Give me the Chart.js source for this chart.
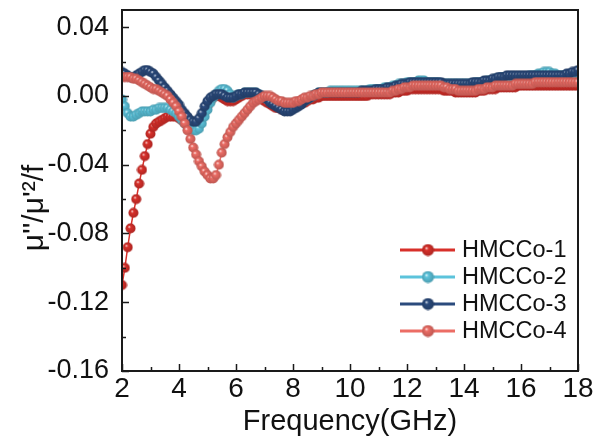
<!DOCTYPE html>
<html>
<head>
<meta charset="utf-8">
<script src="https://cdn.jsdelivr.net/npm/chart.js@4.4.0/dist/chart.umd.min.js"></script>
<style>
  html, body { margin: 0; padding: 0; background: #fff; }
  #wrap { width: 595px; height: 448px; }
</style>
</head>
<body>
<div id="wrap"><canvas id="grafico" width="595" height="448"></canvas></div>
<script>
// ====================================
// datos
// ====================================
const freq = [
  2.0, 2.1, 2.2, 2.3, 2.4, 2.5, 2.6, 2.7, 2.8, 2.9,
  3.0, 3.1, 3.2, 3.3, 3.4, 3.5, 3.6, 3.7, 3.8, 3.9,
  4.0, 4.1, 4.2, 4.3, 4.4, 4.5, 4.6, 4.7, 4.8, 4.9,
  5.0, 5.1, 5.2, 5.3, 5.4, 5.5, 5.6, 5.7, 5.8, 5.9,
  6.0, 6.1, 6.2, 6.3, 6.4, 6.5, 6.6, 6.7, 6.8, 6.9,
  7.0, 7.1, 7.2, 7.3, 7.4, 7.5, 7.6, 7.7, 7.8, 7.9,
  8.0, 8.1, 8.2, 8.3, 8.4, 8.5, 8.6, 8.7, 8.8, 8.9,
  9.0, 9.1, 9.2, 9.3, 9.4, 9.5, 9.6, 9.7, 9.8, 9.9,
  10.0, 10.1, 10.2, 10.3, 10.4, 10.5, 10.6, 10.7, 10.8, 10.9,
  11.0, 11.1, 11.2, 11.3, 11.4, 11.5, 11.6, 11.7, 11.8, 11.9,
  12.0, 12.1, 12.2, 12.3, 12.4, 12.5, 12.6, 12.7, 12.8, 12.9,
  13.0, 13.1, 13.2, 13.3, 13.4, 13.5, 13.6, 13.7, 13.8, 13.9,
  14.0, 14.1, 14.2, 14.3, 14.4, 14.5, 14.6, 14.7, 14.8, 14.9,
  15.0, 15.1, 15.2, 15.3, 15.4, 15.5, 15.6, 15.7, 15.8, 15.9,
  16.0, 16.1, 16.2, 16.3, 16.4, 16.5, 16.6, 16.7, 16.8, 16.9,
  17.0, 17.1, 17.2, 17.3, 17.4, 17.5, 17.6, 17.7, 17.8, 17.9,
  18.0
];

const hmcco1 = [
  -0.110, -0.100, -0.088, -0.077, -0.068, -0.060, -0.051, -0.043, -0.035, -0.028,
  -0.022, -0.018, -0.016, -0.015, -0.014, -0.013, -0.012, -0.012, -0.012, -0.012,
  -0.013, -0.014, -0.015, -0.016, -0.017, -0.017, -0.017, -0.015, -0.012, -0.009,
  -0.006, -0.003, -0.001, 0.000, 0.000, -0.001, -0.002, -0.003, -0.003, -0.003,
  -0.002, -0.001, 0.000, 0.001, 0.001, 0.001, 0.001, 0.000, -0.001, -0.002,
  -0.003, -0.004, -0.005, -0.006, -0.007, -0.007, -0.008, -0.008, -0.008, -0.007,
  -0.006, -0.005, -0.005, -0.004, -0.004, -0.003, -0.002, -0.002, -0.001, -0.001,
  0.000, 0.000, 0.000, 0.000, 0.000, 0.000, 0.000, 0.000, 0.000, 0.000,
  0.000, 0.000, 0.000, 0.000, 0.000, 0.000, 0.000, 0.001, 0.001, 0.001,
  0.001, 0.001, 0.001, 0.001, 0.001, 0.002, 0.002, 0.002, 0.003, 0.003,
  0.003, 0.004, 0.004, 0.004, 0.004, 0.004, 0.004, 0.004, 0.004, 0.004,
  0.004, 0.004, 0.004, 0.003, 0.003, 0.003, 0.003, 0.002, 0.002, 0.002,
  0.002, 0.002, 0.002, 0.002, 0.002, 0.003, 0.003, 0.003, 0.004, 0.004,
  0.004, 0.004, 0.005, 0.005, 0.005, 0.005, 0.005, 0.005, 0.005, 0.006,
  0.006, 0.006, 0.006, 0.006, 0.006, 0.006, 0.006, 0.006, 0.006, 0.006,
  0.006, 0.006, 0.006, 0.006, 0.006, 0.006, 0.006, 0.006, 0.006, 0.006,
  0.006
];

const hmcco2 = [
  -0.002, -0.006, -0.010, -0.012, -0.012, -0.011, -0.010, -0.009, -0.009, -0.009,
  -0.009, -0.008, -0.008, -0.007, -0.007, -0.007, -0.007, -0.008, -0.009, -0.010,
  -0.012, -0.014, -0.016, -0.018, -0.019, -0.020, -0.020, -0.019, -0.016, -0.012,
  -0.008, -0.004, -0.001, 0.001, 0.003, 0.004, 0.004, 0.003, 0.001, -0.001,
  0.000, 0.001, 0.001, 0.002, 0.002, 0.002, 0.002, 0.002, 0.001, 0.000,
  -0.001, -0.002, -0.003, -0.004, -0.005, -0.006, -0.007, -0.008, -0.008, -0.008,
  -0.007, -0.006, -0.005, -0.004, -0.003, -0.002, -0.001, 0.000, 0.001, 0.002,
  0.002, 0.002, 0.002, 0.003, 0.003, 0.003, 0.003, 0.003, 0.003, 0.003,
  0.003, 0.003, 0.003, 0.003, 0.003, 0.003, 0.003, 0.004, 0.004, 0.004,
  0.004, 0.004, 0.005, 0.005, 0.005, 0.006, 0.006, 0.007, 0.007, 0.007,
  0.008, 0.008, 0.008, 0.008, 0.009, 0.009, 0.009, 0.008, 0.008, 0.008,
  0.008, 0.008, 0.007, 0.007, 0.007, 0.007, 0.007, 0.007, 0.007, 0.007,
  0.007, 0.007, 0.007, 0.007, 0.008, 0.008, 0.008, 0.008, 0.009, 0.009,
  0.009, 0.010, 0.010, 0.011, 0.011, 0.011, 0.011, 0.011, 0.011, 0.011,
  0.011, 0.011, 0.011, 0.012, 0.012, 0.012, 0.013, 0.013, 0.014, 0.014,
  0.014, 0.013, 0.013, 0.012, 0.012, 0.012, 0.012, 0.012, 0.012, 0.013,
  0.013
];

const hmcco3 = [
  0.014, 0.013, 0.012, 0.011, 0.011, 0.012, 0.013, 0.014, 0.015, 0.015,
  0.014, 0.013, 0.011, 0.009, 0.007, 0.005, 0.003, 0.001, -0.001, -0.003,
  -0.005, -0.008, -0.010, -0.012, -0.014, -0.015, -0.015, -0.013, -0.010, -0.006,
  -0.003, -0.001, 0.000, 0.001, 0.001, 0.001, 0.000, -0.001, -0.001, -0.001,
  0.000, 0.001, 0.001, 0.002, 0.002, 0.002, 0.002, 0.002, 0.001, 0.000,
  -0.001, -0.002, -0.004, -0.005, -0.006, -0.007, -0.008, -0.009, -0.009, -0.009,
  -0.008, -0.007, -0.006, -0.005, -0.003, -0.002, -0.001, 0.000, 0.001, 0.002,
  0.002, 0.002, 0.002, 0.002, 0.002, 0.002, 0.002, 0.002, 0.002, 0.002,
  0.002, 0.002, 0.002, 0.002, 0.003, 0.003, 0.003, 0.003, 0.003, 0.004,
  0.004, 0.004, 0.004, 0.005, 0.005, 0.005, 0.006, 0.006, 0.007, 0.007,
  0.007, 0.008, 0.008, 0.008, 0.008, 0.008, 0.008, 0.008, 0.008, 0.008,
  0.008, 0.008, 0.008, 0.007, 0.007, 0.007, 0.007, 0.007, 0.007, 0.007,
  0.007, 0.007, 0.007, 0.008, 0.008, 0.008, 0.008, 0.009, 0.009, 0.009,
  0.010, 0.010, 0.011, 0.011, 0.011, 0.012, 0.012, 0.012, 0.012, 0.012,
  0.012, 0.012, 0.012, 0.012, 0.012, 0.012, 0.012, 0.012, 0.012, 0.012,
  0.012, 0.012, 0.012, 0.012, 0.012, 0.012, 0.013, 0.013, 0.014, 0.014,
  0.015
];

const hmcco4 = [
  0.011, 0.011, 0.011, 0.011, 0.010, 0.010, 0.009, 0.008, 0.007, 0.006,
  0.005, 0.004, 0.004, 0.003, 0.002, 0.001, 0.000, -0.002, -0.004, -0.006,
  -0.009, -0.012, -0.016, -0.020, -0.025, -0.030, -0.034, -0.038, -0.041, -0.044,
  -0.046, -0.048, -0.048, -0.046, -0.040, -0.033, -0.028, -0.024, -0.021, -0.018,
  -0.016, -0.014, -0.012, -0.010, -0.008, -0.006, -0.004, -0.003, -0.002, -0.001,
  0.000, 0.000, 0.000, -0.001, -0.002, -0.003, -0.003, -0.004, -0.004, -0.004,
  -0.004, -0.003, -0.003, -0.002, -0.001, -0.001, 0.000, 0.000, 0.001, 0.001,
  0.002, 0.002, 0.002, 0.002, 0.002, 0.002, 0.002, 0.002, 0.002, 0.002,
  0.002, 0.002, 0.002, 0.002, 0.002, 0.002, 0.002, 0.002, 0.002, 0.002,
  0.002, 0.002, 0.002, 0.002, 0.002, 0.003, 0.003, 0.004, 0.004, 0.005,
  0.005, 0.005, 0.006, 0.006, 0.006, 0.006, 0.006, 0.006, 0.006, 0.006,
  0.006, 0.006, 0.006, 0.005, 0.005, 0.004, 0.004, 0.004, 0.003, 0.003,
  0.003, 0.003, 0.003, 0.003, 0.003, 0.004, 0.004, 0.004, 0.005, 0.005,
  0.005, 0.006, 0.006, 0.006, 0.006, 0.006, 0.006, 0.006, 0.007, 0.007,
  0.007, 0.007, 0.007, 0.007, 0.007, 0.008, 0.008, 0.008, 0.008, 0.008,
  0.008, 0.008, 0.008, 0.008, 0.008, 0.008, 0.008, 0.008, 0.008, 0.008,
  0.008
];

const nombres = ['HMCCo-1', 'HMCCo-2', 'HMCCo-3', 'HMCCo-4'];
const colores = ['#d8302a', '#5cc3db', '#2b4b7d', '#ec6d65'];
const series = [hmcco1, hmcco2, hmcco3, hmcco4];

const FUENTE = '"Liberation Sans", Arial, sans-serif';

// ====================================
// marcador tipo "bola" con brillo
// ====================================
function oscurecer(hex, f) {
    const n = parseInt(hex.slice(1), 16);
    const r = Math.round(((n >> 16) & 255) * f);
    const g = Math.round(((n >> 8) & 255) * f);
    const b = Math.round((n & 255) * f);
    return 'rgb(' + r + ',' + g + ',' + b + ')';
}

function crearBola(color, r) {
    const c = document.createElement('canvas');
    c.width = c.height = r * 2 + 1;
    const ctx = c.getContext('2d');
    const cx = c.width / 2;
    const grad = ctx.createRadialGradient(cx - r * 0.3, cx - r * 0.35, 0, cx, cx, r);
    grad.addColorStop(0, '#ffffff');
    grad.addColorStop(0.3, color);
    grad.addColorStop(1, oscurecer(color, 0.8));
    ctx.fillStyle = grad;
    ctx.beginPath();
    ctx.arc(cx, cx, r, 0, Math.PI * 2);
    ctx.fill();
    return c;
}

const bolas = colores.map(c => crearBola(c, 5));
const bolasLeyenda = colores.map(c => crearBola(c, 6));

// ====================================
// plugins: marco, ticks internos, titulo Y y leyenda
// ====================================
const marcoPlugin = {
    id: 'marco',
    afterDatasetsDraw(chart) {
        const { ctx, chartArea: a, scales } = chart;
        ctx.save();
        ctx.strokeStyle = '#1a1a1a';
        ctx.lineWidth = 2;
        ctx.strokeRect(a.left, a.top, a.right - a.left, a.bottom - a.top);

        ctx.lineWidth = 1.5;
        ctx.beginPath();
        // ticks eje x (hacia adentro)
        for (let f = 2; f <= 18; f++) {
            const x = Math.round(scales.x.getPixelForValue(f)) + 0.5;
            const largo = f % 2 === 0 ? 7 : 4;
            ctx.moveTo(x, a.bottom);
            ctx.lineTo(x, a.bottom - largo);
        }
        // ticks eje y
        for (let k = 0; k <= 10; k++) {
            const v = -0.16 + k * 0.02;
            const y = Math.round(scales.y.getPixelForValue(v)) + 0.5;
            const largo = k % 2 === 0 ? 7 : 4;
            ctx.moveTo(a.left, y);
            ctx.lineTo(a.left + largo, y);
        }
        ctx.stroke();
        ctx.restore();
    }
};

const tituloYPlugin = {
    id: 'tituloY',
    afterDraw(chart) {
        const ctx = chart.ctx;
        ctx.save();
        ctx.translate(35, 208);
        ctx.rotate(-Math.PI / 2);
        ctx.font = '30px ' + FUENTE;
        ctx.fillStyle = '#111';
        ctx.textAlign = 'center';
        ctx.textBaseline = 'middle';
        ctx.fillText("\u03bc''/\u03bc'\u00b2/f", 0, 0);
        ctx.restore();
    }
};

const leyendaPlugin = {
    id: 'leyenda',
    afterDraw(chart) {
        const ctx = chart.ctx;
        const filas = [250, 277, 304, 331];
        ctx.save();
        chart.data.datasets.forEach((ds, i) => {
            const y = filas[i];
            ctx.strokeStyle = ds.borderColor;
            ctx.lineWidth = 3;
            ctx.beginPath();
            ctx.moveTo(400, y);
            ctx.lineTo(455, y);
            ctx.stroke();
            const b = bolasLeyenda[i];
            ctx.drawImage(b, 428 - b.width / 2, y - b.height / 2);
            ctx.font = '23.5px ' + FUENTE;
            ctx.fillStyle = '#111';
            ctx.textBaseline = 'middle';
            ctx.fillText(ds.label, 462, y + 1);
        });
        ctx.restore();
    }
};

// ====================================
// grafica
// ====================================
const datasets = series.map((vals, i) => ({
    label: nombres[i],
    data: freq.map((f, j) => ({ x: f, y: vals[j] })),
    borderColor: colores[i],
    backgroundColor: colores[i],
    borderWidth: 1.5,
    pointStyle: bolas[i],
    pointRadius: 5,
    order: 4 - i
}));

new Chart(document.getElementById('grafico'), {
    type: 'line',
    data: { datasets: datasets },
    options: {
        responsive: false,
        animation: false,
        devicePixelRatio: 1,
        layout: { padding: { left: 0, right: 17, top: 10, bottom: 9 } },
        plugins: {
            legend: { display: false },
            tooltip: { enabled: false }
        },
        scales: {
            x: {
                type: 'linear',
                min: 2,
                max: 18,
                grid: { display: false, drawTicks: false },
                border: { display: false },
                ticks: {
                    stepSize: 2,
                    padding: 1,
                    color: '#111',
                    font: { size: 28, family: FUENTE }
                },
                title: {
                    display: true,
                    text: 'Frequency(GHz)',
                    color: '#111',
                    padding: { top: 0, bottom: 0 },
                    font: { size: 29, family: FUENTE }
                },
                afterFit(scale) {
                    scale.height = 68;
                    scale.paddingLeft = 0;
                    scale.paddingRight = 0;
                }
            },
            y: {
                min: -0.16,
                max: 0.05,
                grid: { display: false, drawTicks: false },
                border: { display: false },
                ticks: {
                    stepSize: 0.04,
                    includeBounds: false,
                    padding: 13,
                    color: '#111',
                    font: { size: 27, family: FUENTE },
                    callback: v => (Math.abs(v) < 1e-9 ? 0 : v).toFixed(2)
                },
                afterFit(scale) {
                    scale.width = 122;
                    scale.paddingTop = 0;
                    scale.paddingBottom = 0;
                }
            }
        }
    },
    plugins: [marcoPlugin, tituloYPlugin, leyendaPlugin]
});
</script>
</body>
</html>
